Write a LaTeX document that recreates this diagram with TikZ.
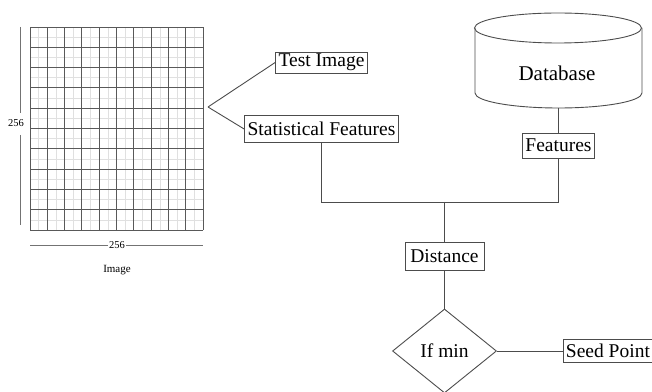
\documentclass[tikz,border=0pt]{standalone}
\usepackage{fontspec}
\setmainfont{Liberation Serif}
\usetikzlibrary{shapes.geometric}
\begin{document}
\begin{tikzpicture}[x=1pt,y=1pt,
  ink/.style={draw=black!70,line width=0.9pt},
  labelbox/.style={ink,fill=white,font=\fontsize{19.5}{21}\selectfont,inner xsep=3pt,inner ysep=2pt,minimum height=23pt},
  dimtext/.style={font=\fontsize{10.5}{12}\selectfont,inner sep=1pt},
  wire/.style={ink}]
\useasboundingbox (0,0) rectangle (652,391);
\begin{scope}
\clip (0,0) rectangle (652,391);

% pixel grid of the image
\foreach \i in {0,...,9} {
  \draw[black!12,line width=0.5pt] ({30+17.3*\i+8.65},161) -- ({30+17.3*\i+8.65},364);
  \draw[black!12,line width=0.5pt] (30,{161+20.3*\i+10.15}) -- (203,{161+20.3*\i+10.15});
}
\foreach \i in {0,...,10} {
  \draw[black!65,line width=0.9pt] ({30+17.3*\i},161) -- ({30+17.3*\i},364);
  \draw[black!65,line width=0.9pt] (30,{161+20.3*\i}) -- (203,{161+20.3*\i});
}

% size labels
\node[dimtext] (hdim) at (16,268) {256};
\coordinate (htop) at (20,364);
\coordinate (hbot) at (20,166);
\draw[black!55,line width=0.9pt] (htop) -- (20,278);
\draw[black!55,line width=0.9pt] (20,256) -- (hbot);
\node[dimtext] (wdim) at (117,146) {256};
\coordinate (wl) at (30,146);
\coordinate (wr) at (203,146);
\draw[black!55,line width=0.9pt] (wl) -- (wdim.west);
\draw[black!55,line width=0.9pt] (wdim.east) -- (wr);
\node[dimtext,font=\fontsize{11}{12}\selectfont] (imgcap) at (117,121) {Image};

% branch to the two outputs
\coordinate (fork) at (208,284);
\node[labelbox,minimum height=21pt] (test) at (321.5,328.5) {Test Image};
\node[labelbox,minimum height=27pt] (stat) at (321.5,262) {Statistical Features};
\draw[wire] (fork) -- (test.west);
\draw[wire] (fork) -- (stat.west);

% database cylinder
\draw[ink] (475,363) -- (475,298) arc[start angle=180,end angle=360,x radius=83.5,y radius=15] -- (642,363);
\draw[ink] (558,363) ellipse[x radius=83.5,y radius=15];
\node[font=\fontsize{21}{23}\selectfont] (db) at (557,318) {Database};
\coordinate (dbbot) at (558.5,283);
\node[labelbox,minimum height=25pt] (feat) at (558.5,245.5) {Features};
\draw[wire] (dbbot) -- (feat.north);

% joining both feature sets
\coordinate (busl) at (stat.south |- 0,189);
\coordinate (busr) at (feat.south |- 0,189);
\coordinate (busm) at (444.5,189);
\draw[wire] (stat.south) -- (busl) -- (busr) -- (feat.south);
\node[labelbox,minimum height=28pt,minimum width=79pt] (dist) at (444.5,135) {Distance};
\draw[wire] (busm) -- (dist.north);

% decision
\node[ink,diamond,minimum width=104pt,minimum height=84pt,inner sep=0pt,
      font=\fontsize{19.5}{21}\selectfont] (ifmin) at (444.5,40) {If min};
\draw[wire] (dist.south) -- (ifmin.north);
\node[labelbox,anchor=west,minimum height=23pt,inner xsep=2.5pt] (seed) at (563,40) {Seed Point};
\draw[wire] (ifmin.east) -- (seed.west);
\end{scope}
\end{tikzpicture}
\end{document}
